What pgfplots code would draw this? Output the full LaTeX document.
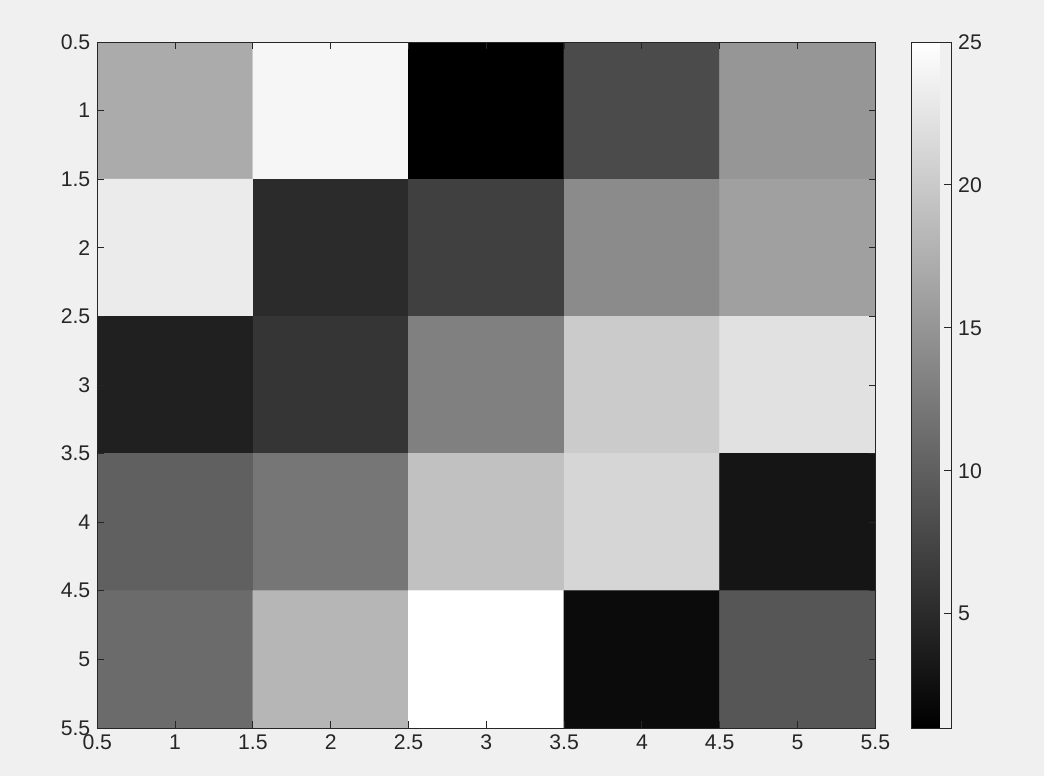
\documentclass[border=0pt]{standalone}
\usepackage{pgfplots}
\pgfplotsset{compat=1.18}
\usepackage{fontspec}
\setmainfont{Liberation Sans}
\definecolor{bgc}{RGB}{240,240,240}
\definecolor{axc}{RGB}{38,38,38}
\begin{document}
\begin{tikzpicture}
\path[use as bounding box, fill=bgc] (0,0) rectangle (522pt,388pt);
\begin{axis}[
  at={(48.65pt,24pt)}, anchor=south west,
  scale only axis, width=389pt, height=343pt,
  xmin=0.5, xmax=5.5, ymin=0.5, ymax=5.5,
  y dir=reverse,
  xtick={0.5,1,...,5.5}, ytick={0.5,1,...,5.5},
  xticklabels={0.5,1,1.5,2,2.5,3,3.5,4,4.5,5,5.5},
  yticklabels={0.5,1,1.5,2,2.5,3,3.5,4,4.5,5,5.5},
  tick align=inside, major tick length=3.4pt,
  axis line style={axc, line width=0.5pt},
  tick style={axc, line width=0.5pt},
  ticklabel style={font=\fontsize{10.6}{12}\selectfont, text=axc},
  /pgf/number format/assume math mode=true,
  axis on top,
  colormap={mgray}{gray(0cm)=(0); gray(1cm)=(1)},
  point meta min=1, point meta max=25,
  colorbar,
  colorbar style={
    at={(parent axis.north east)}, anchor=north west, xshift=9.4pt,
    scale only axis, width=20pt, height=343pt,
    ytick={5,10,15,20,25},
    yticklabel pos=right,
    tick align=inside, major tick length=3.4pt,
    ytick pos=right,
    axis on top,
    axis line style={axc, line width=0.5pt},
    tick style={axc, line width=0.5pt},
    yticklabel style={font=\fontsize{10.6}{12}\selectfont, text=axc},
    /pgf/number format/assume math mode=true,
  },
]
\addplot[matrix plot*, mesh/cols=5, point meta=explicit] table[meta=c] {
x y c
1 1 17
2 1 24
3 1 1
4 1 8
5 1 15
1 2 23
2 2 5
3 2 7
4 2 14
5 2 16
1 3 4
2 3 6
3 3 13
4 3 20
5 3 22
1 4 10
2 4 12
3 4 19
4 4 21
5 4 3
1 5 11
2 5 18
3 5 25
4 5 2
5 5 9
};
\end{axis}
\end{tikzpicture}
\end{document}
